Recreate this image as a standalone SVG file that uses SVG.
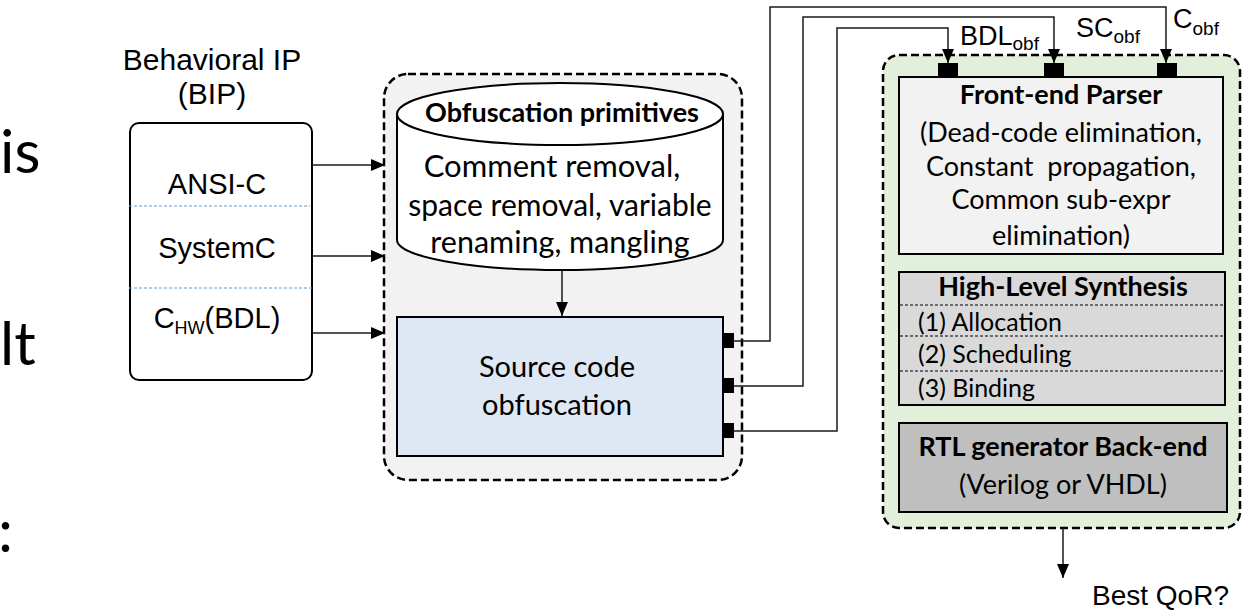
<svg xmlns="http://www.w3.org/2000/svg" width="1255" height="611" viewBox="0 0 1255 611">
<style>
.cal{font-family:Lato,"Open Sans",sans-serif;fill:#000}
.ar{font-family:"Liberation Sans",Arial,sans-serif;fill:#000}
.b{font-weight:bold}
.box{stroke:#000;stroke-width:2}
.dash{stroke:#000;stroke-width:2.5;stroke-dasharray:8 4}
.conn{fill:none;stroke:#1a1a1a;stroke-width:1.5}
.sep{stroke:#5b9bd5;stroke-width:1;stroke-dasharray:3 2}
.hsep{stroke:#000;stroke-width:1;stroke-dasharray:3 2}
.port{fill:#000}
</style>
<defs>
<marker id="ah" markerUnits="userSpaceOnUse" markerWidth="14" markerHeight="12" refX="14" refY="6" orient="auto">
<path d="M0,0 L14,6 L0,12 z" fill="#000"/>
</marker>
</defs>
<rect width="1255" height="611" fill="#fff"/>

<g id="slide-text">
<text class="cal" x="0" y="173" font-size="60">is</text>
<text class="cal" x="0" y="365" font-size="60">lt</text>
<text class="cal" x="-2" y="552" font-size="60">:</text>
</g>

<g id="bip">
<text class="ar" x="212" y="70" font-size="30" text-anchor="middle">Behavioral IP</text>
<text class="ar" x="212" y="104" font-size="30" text-anchor="middle">(BIP)</text>
<rect class="box" x="130" y="123" width="182" height="257" rx="9" fill="#fff"/>
<line class="sep" x1="129" y1="206" x2="310" y2="206"/>
<line class="sep" x1="129" y1="288" x2="312" y2="288"/>
<text class="ar" x="217" y="194" font-size="29" text-anchor="middle">ANSI-C</text>
<text class="ar" x="217" y="258" font-size="29" text-anchor="middle">SystemC</text>
<text class="ar" x="217" y="328" font-size="29" text-anchor="middle">C<tspan font-size="18" dy="6">HW</tspan><tspan dy="-6">(BDL)</tspan></text>
</g>

<g id="obfuscation-stage">
<rect class="dash" x="384" y="74" width="358" height="406" rx="24" fill="#f2f2f2"/>
</g>

<g id="primitives">
<path class="box" d="M397,114 L397,240 A163,30 0 0 0 723,240 L723,114" fill="#fff"/>
<ellipse class="box" cx="560" cy="114" rx="163" ry="31" fill="#fff"/>
<text class="cal b" x="562" y="122" font-size="27" text-anchor="middle">Obfuscation primitives</text>
<text class="cal" x="552" y="177" font-size="31" text-anchor="middle">Comment removal,</text>
<text class="cal" x="560" y="216" font-size="30" text-anchor="middle">space removal, variable</text>
<text class="cal" x="560" y="253" font-size="30.5" text-anchor="middle">renaming, mangling</text>
</g>

<g id="source-obfuscation">
<rect class="box" x="397" y="317" width="326" height="139" fill="#dee8f4"/>
<text class="cal" x="557" y="377" font-size="29" text-anchor="middle">Source code</text>
<text class="cal" x="557" y="415" font-size="29" text-anchor="middle">obfuscation</text>
<rect class="port" x="723" y="333" width="11" height="15"/>
<rect class="port" x="723" y="378" width="11" height="15"/>
<rect class="port" x="723" y="423" width="11" height="15"/>
</g>

<g id="hls-tool">
<rect class="dash" x="883" y="55" width="357" height="473" rx="16" fill="#e2efda"/>
<rect class="port" x="938" y="63" width="20" height="13"/>
<rect class="port" x="1044" y="63" width="20" height="13"/>
<rect class="port" x="1157" y="63" width="20" height="13"/>
</g>

<g id="front-end-parser">
<rect class="box" x="899" y="77" width="324" height="177" fill="#f2f2f2"/>
<text class="cal b" x="1061" y="104" font-size="27" text-anchor="middle">Front-end Parser</text>
<text class="cal" x="1061" y="142" font-size="27" text-anchor="middle">(Dead-code elimination,</text>
<text class="cal" x="1061" y="176" font-size="27" text-anchor="middle" xml:space="preserve">Constant  propagation,</text>
<text class="cal" x="1061" y="209" font-size="27" text-anchor="middle">Common sub-expr</text>
<text class="cal" x="1061" y="245" font-size="27" text-anchor="middle">elimination)</text>
</g>

<g id="high-level-synthesis">
<rect class="box" x="899" y="272" width="326" height="133" fill="#d9d9d9"/>
<line class="hsep" x1="900" y1="305" x2="1224" y2="305"/>
<line class="hsep" x1="900" y1="336" x2="1224" y2="336"/>
<line class="hsep" x1="900" y1="371" x2="1224" y2="371"/>
<text class="cal b" x="1063" y="296" font-size="27" text-anchor="middle">High-Level Synthesis</text>
<text class="cal" x="918" y="331" font-size="25">(1) Allocation</text>
<text class="cal" x="918" y="363" font-size="25">(2) Scheduling</text>
<text class="cal" x="918" y="397" font-size="25">(3) Binding</text>
</g>

<g id="rtl-generator">
<rect class="box" x="899" y="423" width="328" height="89" fill="#bfbfbf"/>
<text class="cal b" x="1063" y="456" font-size="27" text-anchor="middle">RTL generator Back-end</text>
<text class="cal" x="1063" y="494" font-size="27" text-anchor="middle">(Verilog or VHDL)</text>
</g>

<g id="labels">
<text class="ar" x="960" y="45" font-size="27">BDL<tspan font-size="19" dy="5">obf</tspan></text>
<text class="ar" x="1076" y="37" font-size="27">SC<tspan font-size="19" dy="6">obf</tspan></text>
<text class="ar" x="1173" y="28" font-size="27">C<tspan font-size="19" dy="7">obf</tspan></text>
<text class="ar" x="1092" y="605" font-size="28">Best QoR?</text>
</g>

<g id="connectors">
<line class="conn" x1="312" y1="165" x2="385" y2="165" marker-end="url(#ah)"/>
<line class="conn" x1="313" y1="256" x2="385" y2="256" marker-end="url(#ah)"/>
<line class="conn" x1="313" y1="333" x2="385" y2="333" marker-end="url(#ah)"/>
<line class="conn" x1="562" y1="271" x2="562" y2="316" marker-end="url(#ah)"/>
<polyline class="conn" points="734,341 770,341 770,7 1166,7 1166,63" marker-end="url(#ah)"/>
<polyline class="conn" points="734,386 803,386 803,17 1054,17 1054,63" marker-end="url(#ah)"/>
<polyline class="conn" points="734,431 837,431 837,28 948,28 948,63" marker-end="url(#ah)"/>
<line class="conn" x1="1063" y1="528" x2="1063" y2="578" marker-end="url(#ah)"/>
</g>
</svg>
